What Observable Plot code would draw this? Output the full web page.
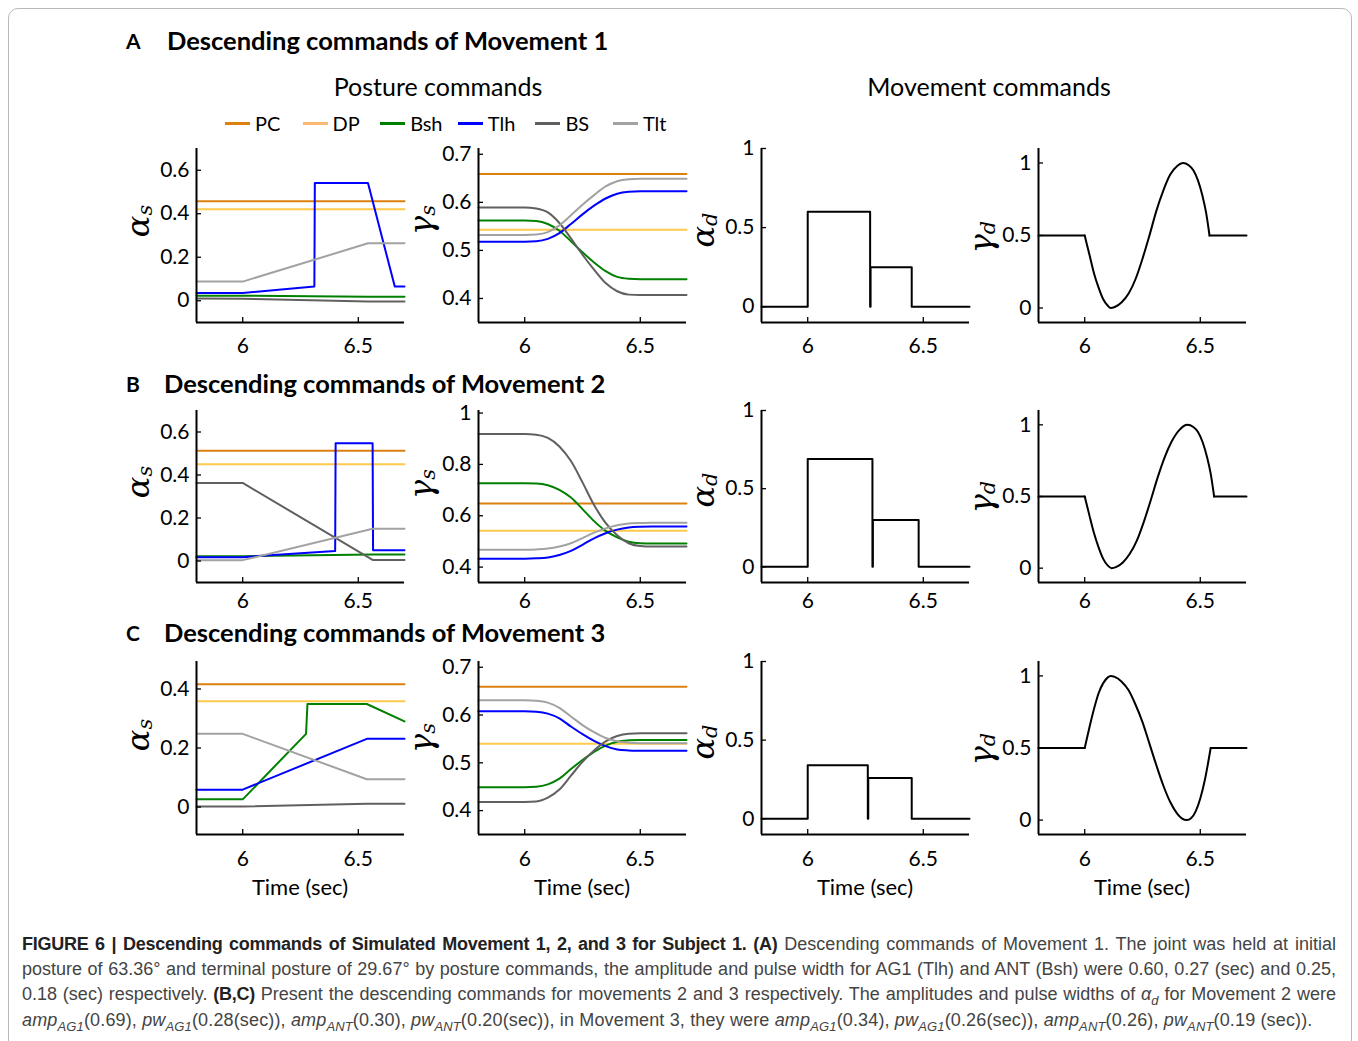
<!DOCTYPE html>
<html><head><meta charset="utf-8">
<script src="https://cdn.jsdelivr.net/npm/d3@7"></script>
<script src="https://cdn.jsdelivr.net/npm/@observablehq/plot@0.6"></script>
<style>
body{margin:0;background:#fff;}
#fig{position:relative;width:1358px;height:1041px;overflow:hidden;font-family:Lato,"Open Sans",sans-serif;color:#000;background:#fff;}
.abs{position:absolute;white-space:nowrap;}
.c{transform:translate(-50%,-50%);}
.v{transform:translateY(-50%);}
.ylab{font-family:"DejaVu Serif",serif;font-style:italic;font-size:32px;transform:translate(-50%,-50%) rotate(-90deg);line-height:1;}
.ylab sub{font-size:21px;vertical-align:-0.12em;line-height:0;}
.cap{position:absolute;left:22px;width:1314px;font-family:"Liberation Sans",Arial,sans-serif;font-size:18px;color:#444;white-space:nowrap;line-height:20px;}
.cap.j{text-align:justify;text-align-last:justify;}
.cap.last{letter-spacing:0.15px;}
.cap b{color:#222;letter-spacing:-0.25px;}
.cap sub{font-size:13px;vertical-align:-0.35em;line-height:0;}
.leg{position:absolute;left:225px;top:112px;display:flex;font-size:20px;line-height:22px;}
.leg .it{width:77.6px;display:flex;align-items:center;}
.leg .sw{width:25px;height:3px;margin-right:5px;}
</style></head><body><div id="fig"></div>
<script>
// ---------- shared ----------
const series = ["PC", "DP", "Bsh", "Tlh", "BS", "Tlt"];
const seriesColors = ["#DC800F", "#FFC94C", "#008000", "#0000FF", "#606060", "#A2A2A2"];
const legendSwatch = ["#DC800F", "#FDB872", "#008000", "#0000FF", "#606060", "#A2A2A2"];
const xDomainSec = [5.8, 6.7];
const xTickSec = [6, 6.5];

// ---------- Movement 1 : alpha_s ----------
const m1_as_PC  = [[5.8, 0.457], [6.7, 0.457]];
const m1_as_DP  = [[5.8, 0.421], [6.7, 0.421]];
const m1_as_Bsh = [[5.8, 0.023], [6.0, 0.023], [6.54, 0.018], [6.7, 0.018]];
const m1_as_Tlh = [[5.8, 0.036], [6.0, 0.036], [6.31, 0.065], [6.312, 0.541], [6.542, 0.541], [6.658, 0.065], [6.7, 0.065]];
const m1_as_BS  = [[5.8, 0.01], [6.0, 0.009], [6.542, -0.004], [6.7, -0.004]];
const m1_as_Tlt = [[5.8, 0.088], [6.0, 0.088], [6.542, 0.264], [6.7, 0.264]];
const m1_as_ydom = [-0.1, 0.7];
const m1_as_yticks = [0, 0.2, 0.4, 0.6];

// ---------- Movement 1 : gamma_s ----------
const m1_gs_t   = [5.8, 6.0, 6.05, 6.1, 6.15, 6.2, 6.25, 6.3, 6.35, 6.4, 6.45, 6.5, 6.7];
const m1_gs_PC  = [0.659, 0.659, 0.659, 0.659, 0.659, 0.659, 0.659, 0.659, 0.659, 0.659, 0.659, 0.659, 0.659];
const m1_gs_DP  = [0.543, 0.543, 0.543, 0.543, 0.543, 0.543, 0.543, 0.543, 0.543, 0.543, 0.543, 0.543, 0.543];
const m1_gs_Bsh = [0.562, 0.562, 0.561, 0.555, 0.541, 0.519, 0.496, 0.475, 0.457, 0.445, 0.441, 0.44, 0.44];
const m1_gs_Tlh = [0.518, 0.518, 0.519, 0.524, 0.536, 0.555, 0.575, 0.593, 0.608, 0.618, 0.622, 0.623, 0.623];
const m1_gs_BS  = [0.589, 0.589, 0.587, 0.579, 0.557, 0.525, 0.491, 0.46, 0.432, 0.415, 0.408, 0.407, 0.407];
const m1_gs_Tlt = [0.532, 0.532, 0.533, 0.538, 0.552, 0.573, 0.595, 0.615, 0.633, 0.644, 0.648, 0.649, 0.649];
const m1_gs_ydom = [0.35, 0.712];
const m1_gs_yticks = [0.4, 0.5, 0.6, 0.7];

// ---------- Movement 2 : alpha_s ----------
const m2_as_PC  = [[5.8, 0.513], [6.7, 0.513]];
const m2_as_DP  = [[5.8, 0.45], [6.7, 0.45]];
const m2_as_Bsh = [[5.8, 0.022], [6.0, 0.022], [6.562, 0.03], [6.7, 0.03]];
const m2_as_Tlh = [[5.8, 0.018], [6.0, 0.018], [6.4, 0.047], [6.402, 0.548], [6.562, 0.548], [6.564, 0.05], [6.7, 0.05]];
const m2_as_BS  = [[5.8, 0.363], [6.0, 0.363], [6.562, 0.005], [6.7, 0.005]];
const m2_as_Tlt = [[5.8, 0.004], [6.0, 0.004], [6.562, 0.15], [6.7, 0.15]];
const m2_as_ydom = [-0.1, 0.7];
const m2_as_yticks = [0, 0.2, 0.4, 0.6];

// ---------- Movement 2 : gamma_s ----------
const m2_gs_t   = [5.8, 6.0, 6.05, 6.1, 6.15, 6.2, 6.25, 6.3, 6.35, 6.4, 6.45, 6.5, 6.55, 6.7];
const m2_gs_PC  = [0.648, 0.648, 0.648, 0.648, 0.648, 0.648, 0.648, 0.648, 0.648, 0.648, 0.648, 0.648, 0.648, 0.648];
const m2_gs_DP  = [0.542, 0.542, 0.542, 0.542, 0.542, 0.542, 0.542, 0.542, 0.542, 0.542, 0.542, 0.542, 0.542, 0.542];
const m2_gs_Bsh = [0.727, 0.727, 0.726, 0.719, 0.701, 0.671, 0.626, 0.579, 0.541, 0.516, 0.499, 0.493, 0.492, 0.492];
const m2_gs_Tlh = [0.433, 0.433, 0.434, 0.437, 0.447, 0.463, 0.487, 0.512, 0.532, 0.546, 0.554, 0.557, 0.558, 0.558];
const m2_gs_BS  = [0.918, 0.918, 0.916, 0.903, 0.87, 0.813, 0.73, 0.642, 0.572, 0.524, 0.493, 0.482, 0.48, 0.48];
const m2_gs_Tlt = [0.468, 0.468, 0.469, 0.472, 0.48, 0.493, 0.513, 0.534, 0.551, 0.563, 0.57, 0.572, 0.573, 0.573];
const m2_gs_ydom = [0.34, 1.01];
const m2_gs_yticks = [0.4, 0.6, 0.8, 1];

// ---------- Movement 3 : alpha_s ----------
const m3_as_PC  = [[5.8, 0.416], [6.7, 0.416]];
const m3_as_DP  = [[5.8, 0.358], [6.7, 0.358]];
const m3_as_Bsh = [[5.8, 0.026], [6.0, 0.026], [6.274, 0.248], [6.28, 0.349], [6.537, 0.349], [6.7, 0.29]];
const m3_as_Tlh = [[5.8, 0.059], [6.0, 0.059], [6.537, 0.231], [6.7, 0.231]];
const m3_as_BS  = [[5.8, 0.002], [6.0, 0.002], [6.537, 0.011], [6.7, 0.011]];
const m3_as_Tlt = [[5.8, 0.248], [6.0, 0.248], [6.537, 0.094], [6.7, 0.094]];
const m3_as_ydom = [-0.093, 0.493];
const m3_as_yticks = [0, 0.2, 0.4];

// ---------- Movement 3 : gamma_s ----------
const m3_gs_t   = [5.8, 6.0, 6.05, 6.1, 6.15, 6.2, 6.25, 6.3, 6.35, 6.4, 6.45, 6.5, 6.7];
const m3_gs_PC  = [0.659, 0.659, 0.659, 0.659, 0.659, 0.659, 0.659, 0.659, 0.659, 0.659, 0.659, 0.659, 0.659];
const m3_gs_DP  = [0.54, 0.54, 0.54, 0.54, 0.54, 0.54, 0.54, 0.54, 0.54, 0.54, 0.54, 0.54, 0.54];
const m3_gs_Bsh = [0.449, 0.449, 0.45, 0.455, 0.467, 0.487, 0.506, 0.523, 0.536, 0.544, 0.547, 0.548, 0.548];
const m3_gs_Tlh = [0.608, 0.608, 0.607, 0.603, 0.593, 0.576, 0.56, 0.546, 0.535, 0.528, 0.526, 0.525, 0.525];
const m3_gs_BS  = [0.418, 0.418, 0.419, 0.427, 0.444, 0.473, 0.502, 0.526, 0.545, 0.556, 0.561, 0.562, 0.562];
const m3_gs_Tlt = [0.631, 0.631, 0.63, 0.626, 0.615, 0.597, 0.579, 0.564, 0.552, 0.545, 0.542, 0.541, 0.541];
const m3_gs_ydom = [0.35, 0.712];
const m3_gs_yticks = [0.4, 0.5, 0.6, 0.7];

// ---------- Movement commands : alpha_d ----------
const m1_ad = [[5.8, 0], [6.0, 0], [6.0, 0.6], [6.27, 0.6], [6.27, 0], [6.272, 0], [6.272, 0.25], [6.45, 0.25], [6.45, 0], [6.7, 0]];
const m2_ad = [[5.8, 0], [6.0, 0], [6.0, 0.69], [6.28, 0.69], [6.28, 0], [6.282, 0], [6.282, 0.30], [6.48, 0.30], [6.48, 0], [6.7, 0]];
const m3_ad = [[5.8, 0], [6.0, 0], [6.0, 0.34], [6.26, 0.34], [6.26, 0], [6.262, 0], [6.262, 0.26], [6.45, 0.26], [6.45, 0], [6.7, 0]];
const ad_ydom = [-0.1, 1.0];
const ad_yticks = [0, 0.5, 1];

// ---------- Movement commands : gamma_d ----------
const m1_gd_pre  = [[5.8, 0.5], [6.0, 0.5]];
const m1_gd_wave = [[6.0, 0.5], [6.02, 0.37], [6.04, 0.24], [6.06, 0.14], [6.08, 0.06], [6.1, 0.015], [6.112, 0], [6.13, 0.007], [6.16, 0.04], [6.19, 0.1], [6.22, 0.2], [6.25, 0.34], [6.28, 0.5], [6.31, 0.67], [6.34, 0.81], [6.37, 0.92], [6.4, 0.98], [6.425, 1.0], [6.45, 0.985], [6.47, 0.95], [6.49, 0.88], [6.51, 0.77], [6.525, 0.66], [6.54, 0.5]];
const m1_gd_post = [[6.54, 0.5], [6.7, 0.5]];
const m2_gd_pre  = [[5.8, 0.5], [6.0, 0.5]];
const m2_gd_wave = [[6.0, 0.5], [6.02, 0.37], [6.04, 0.245], [6.06, 0.145], [6.08, 0.065], [6.1, 0.018], [6.116, 0], [6.135, 0.007], [6.165, 0.04], [6.195, 0.1], [6.225, 0.19], [6.255, 0.32], [6.285, 0.47], [6.315, 0.63], [6.345, 0.77], [6.375, 0.88], [6.41, 0.965], [6.444, 1.0], [6.47, 0.985], [6.49, 0.95], [6.51, 0.88], [6.53, 0.77], [6.545, 0.66], [6.56, 0.5]];
const m2_gd_post = [[6.56, 0.5], [6.7, 0.5]];
const m3_gd_pre  = [[5.8, 0.5], [6.0, 0.5]];
const m3_gd_wave = [[6.0, 0.5], [6.02, 0.64], [6.04, 0.77], [6.06, 0.88], [6.08, 0.95], [6.1, 0.99], [6.112, 1.0], [6.13, 0.993], [6.16, 0.96], [6.19, 0.9], [6.22, 0.8], [6.25, 0.68], [6.28, 0.53], [6.31, 0.38], [6.34, 0.24], [6.37, 0.125], [6.4, 0.045], [6.42, 0.012], [6.442, 0], [6.46, 0.012], [6.48, 0.06], [6.5, 0.15], [6.52, 0.28], [6.545, 0.5]];
const m3_gd_post = [[6.545, 0.5], [6.7, 0.5]];
const gd_ydom = [-0.1, 1.1];
const gd_yticks = [0, 0.5, 1];

// ---------- helpers ----------
const fromPairs = (pairs, key) => pairs.map(([t, v]) => ({t, v, series: key, key}));
const fromGrid = (ts, vs, key) => ts.map((t, i) => ({t, v: vs[i], series: key, key}));

const fig = document.getElementById("fig");
function addDiv(html, cls, style) {
  const d = document.createElement("div");
  d.className = cls;
  d.innerHTML = html;
  Object.assign(d.style, style || {});
  fig.appendChild(d);
  return d;
}

// layout
const colAxisX = [196, 478, 761, 1038];
const rowTop = [148, 410, 661];
const rowH = [174, 172, 173];
const rowXPad = [16, 11, 17];
const FW = 208, mL = 60, mR = 14, mT = 14, mB = 46;
const fmt = d => String(d);

function panel(r, c, rows, ydom, yticks, opts) {
  const h = rowH[r];
  const marks = [
    Plot.line(rows, {x: "t", y: "v", z: "key", stroke: opts.black ? "black" : "series", strokeWidth: 2, curve: opts.curve || "linear"}),
    Plot.tickX(xTickSec, {x: d => d, insetTop: h - 5, strokeWidth: 1.3}),
    Plot.tickY(yticks, {y: d => d, insetRight: FW - 5, strokeWidth: 1.3}),
    Plot.ruleX([xDomainSec[0]], {strokeWidth: 2}),
    Plot.ruleY([ydom[0]], {strokeWidth: 2})
  ];
  const svg = Plot.plot({
    width: mL + FW + mR, height: mT + h + mB,
    marginLeft: mL, marginRight: mR, marginTop: mT, marginBottom: mB,
    style: {fontFamily: "Lato, sans-serif", fontSize: "21px", color: "#000", background: "transparent", overflow: "visible"},
    x: {domain: xDomainSec, ticks: xTickSec, tickFormat: fmt, tickSize: 0, tickPadding: rowXPad[r], label: null},
    y: {domain: ydom, ticks: yticks, tickFormat: fmt, tickSize: 0, tickPadding: 7, label: null},
    color: {domain: series, range: seriesColors},
    marks
  });
  Object.assign(svg.style, {position: "absolute", left: (colAxisX[c] - mL) + "px", top: (rowTop[r] - mT) + "px"});
  fig.appendChild(svg);
}

function postureRows(prefix) {
  const src = {
    m1_as: [m1_as_PC, m1_as_DP, m1_as_Bsh, m1_as_Tlh, m1_as_BS, m1_as_Tlt],
    m2_as: [m2_as_PC, m2_as_DP, m2_as_Bsh, m2_as_Tlh, m2_as_BS, m2_as_Tlt],
    m3_as: [m3_as_PC, m3_as_DP, m3_as_Bsh, m3_as_Tlh, m3_as_BS, m3_as_Tlt]
  }[prefix];
  return series.flatMap((s, i) => fromPairs(src[i], s));
}
function gammaRows(ts, arrs) {
  return series.flatMap((s, i) => fromGrid(ts, arrs[i], s));
}
function gdRows(pre, wave, post) {
  return [...fromPairs(pre, "pre"), ...fromPairs(wave, "wave"), ...fromPairs(post, "post")];
}

// border
addDiv("", "abs", {left: "8px", top: "8px", width: "1342px", height: "1080px", border: "1.5px solid #B8B8B8", borderRadius: "10px"});

// row A
panel(0, 0, postureRows("m1_as"), m1_as_ydom, m1_as_yticks, {});
panel(0, 1, gammaRows(m1_gs_t, [m1_gs_PC, m1_gs_DP, m1_gs_Bsh, m1_gs_Tlh, m1_gs_BS, m1_gs_Tlt]), m1_gs_ydom, m1_gs_yticks, {curve: "monotone-x"});
panel(0, 2, fromPairs(m1_ad, "ad"), ad_ydom, ad_yticks, {black: true});
panel(0, 3, gdRows(m1_gd_pre, m1_gd_wave, m1_gd_post), gd_ydom, gd_yticks, {black: true, curve: "monotone-x"});
// row B
panel(1, 0, postureRows("m2_as"), m2_as_ydom, m2_as_yticks, {});
panel(1, 1, gammaRows(m2_gs_t, [m2_gs_PC, m2_gs_DP, m2_gs_Bsh, m2_gs_Tlh, m2_gs_BS, m2_gs_Tlt]), m2_gs_ydom, m2_gs_yticks, {curve: "monotone-x"});
panel(1, 2, fromPairs(m2_ad, "ad"), ad_ydom, ad_yticks, {black: true});
panel(1, 3, gdRows(m2_gd_pre, m2_gd_wave, m2_gd_post), gd_ydom, gd_yticks, {black: true, curve: "monotone-x"});
// row C
panel(2, 0, postureRows("m3_as"), m3_as_ydom, m3_as_yticks, {});
panel(2, 1, gammaRows(m3_gs_t, [m3_gs_PC, m3_gs_DP, m3_gs_Bsh, m3_gs_Tlh, m3_gs_BS, m3_gs_Tlt]), m3_gs_ydom, m3_gs_yticks, {curve: "monotone-x"});
panel(2, 2, fromPairs(m3_ad, "ad"), ad_ydom, ad_yticks, {black: true});
panel(2, 3, gdRows(m3_gd_pre, m3_gd_wave, m3_gd_post), gd_ydom, gd_yticks, {black: true, curve: "monotone-x"});

// titles
const rowLetters = ["A", "B", "C"];
const rowTitles = ["Descending commands of Movement 1", "Descending commands of Movement 2", "Descending commands of Movement 3"];
const letterPos = [[126, 40], [126, 383], [126, 632]];
const titlePos = [[167, 40], [164, 383], [164, 632]];
rowLetters.forEach((L, i) => {
  addDiv(L, "abs v", {left: letterPos[i][0] + "px", top: letterPos[i][1] + "px", fontWeight: "700", fontSize: "21px"});
  addDiv(rowTitles[i], "abs v", {left: titlePos[i][0] + "px", top: titlePos[i][1] + "px", fontWeight: "700", fontSize: "25.5px"});
});
addDiv("Posture commands", "abs c", {left: "438px", top: "86px", fontSize: "25px"});
addDiv("Movement commands", "abs c", {left: "989px", top: "86px", fontSize: "25px"});

// legend
addDiv(series.map((s, i) => `<div class="it"><div class="sw" style="background:${legendSwatch[i]}"></div><span>${s}</span></div>`).join(""), "leg", {});

// y labels
const ylabGreek = ["α", "γ", "α", "γ"];
const ylabSub = ["s", "s", "d", "d"];
const ylabX = [138, 421, 703, 981];
const ylabY = [[221, 220, 230, 237], [482, 484, 490, 497], [735, 738, 742, 749]];
for (let r = 0; r < 3; r++) for (let c = 0; c < 4; c++) {
  addDiv(`${ylabGreek[c]}<sub>${ylabSub[c]}</sub>`, "abs ylab", {left: ylabX[c] + "px", top: ylabY[r][c] + "px"});
}
// x labels
const xlabX = [300, 582, 865, 1142];
xlabX.forEach(x => addDiv("Time (sec)", "abs c", {left: x + "px", top: "886px", fontSize: "22px"}));

// caption
const capLines = [
  `<b>FIGURE 6 | Descending commands of Simulated Movement 1, 2, and 3 for Subject 1. (A)</b> Descending commands of Movement 1. The joint was held at initial`,
  `posture of 63.36° and terminal posture of 29.67° by posture commands, the amplitude and pulse width for AG1 (Tlh) and ANT (Bsh) were 0.60, 0.27 (sec) and 0.25,`,
  `0.18 (sec) respectively. <b>(B,C)</b> Present the descending commands for movements 2 and 3 respectively. The amplitudes and pulse widths of <i>α<sub>d</sub></i> for Movement 2 were`,
  `<i>amp<sub>AG1</sub></i>(0.69), <i>pw<sub>AG1</sub></i>(0.28(sec)), <i>amp<sub>ANT</sub></i>(0.30), <i>pw<sub>ANT</sub></i>(0.20(sec)), in Movement 3, they were <i>amp<sub>AG1</sub></i>(0.34), <i>pw<sub>AG1</sub></i>(0.26(sec)), <i>amp<sub>ANT</sub></i>(0.26), <i>pw<sub>ANT</sub></i>(0.19 (sec)).`
];
const capY = [934, 959, 984, 1010];
capLines.forEach((t, i) => addDiv(t, i < 3 ? "cap j" : "cap last", {top: capY[i] + "px"}));
</script>
</body></html>
